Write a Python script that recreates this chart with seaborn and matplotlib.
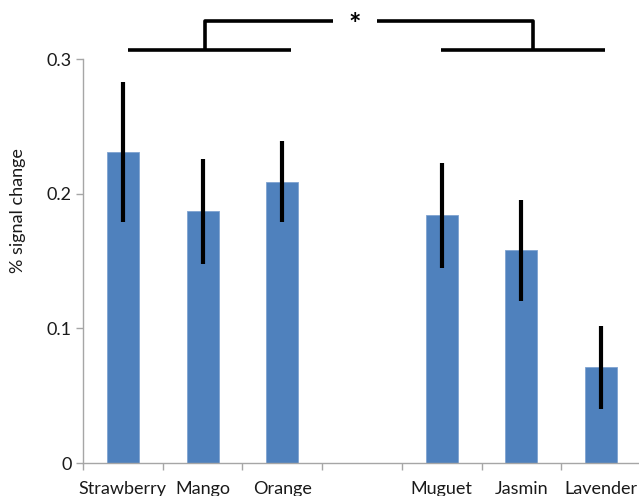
import numpy as np
import pandas as pd
import matplotlib
matplotlib.use("Agg")
import matplotlib.pyplot as plt
import seaborn as sns

# Odorant categories; the empty slot separates the fruity and floral groups
categories = ["Strawberry", "Mango", "Orange", "", "Muguet", "Jasmin", "Lavender"]
odors = ["Strawberry", "Mango", "Orange", "Muguet", "Jasmin", "Lavender"]
signal = [0.231, 0.187, 0.209, 0.184, 0.158, 0.071]
sem = [0.052, 0.039, 0.030, 0.039, 0.0375, 0.031]
y_ticks = [0, 0.1, 0.2, 0.3]
y_tick_labels = ["0", "0.1", "0.2", "0.3"]

sns.set_theme(style="white")
plt.rcParams["font.family"] = ["Lato", "DejaVu Sans"]

df = pd.DataFrame({"odor": odors, "signal": signal, "sem": sem})

fig = plt.figure(figsize=(6.39, 4.96), dpi=100)
ax = fig.add_axes([0.130, 0.0665, 0.873, 0.8145])

sns.barplot(data=df, x="odor", y="signal", order=categories,
            color="#4F81BD", saturation=1, width=0.4, errorbar=None,
            edgecolor="#7FA3D0", linewidth=0.6, ax=ax)

# Error bars placed at the bar centres
centers = {lab: p.get_x() + p.get_width() / 2
           for lab, p in zip(odors, [p for p in ax.patches if p.get_height() > 0])}
ax.errorbar([centers[o] for o in odors], signal, yerr=sem, fmt="none",
            ecolor="black", elinewidth=3.0, capsize=0, zorder=5)

ax.set_ylim(0, 0.3)
ax.set_xlim(-0.5, len(categories) - 0.5)
ax.set_yticks(y_ticks)
ax.set_yticklabels(y_tick_labels)
ax.set_xticks(range(len(categories)))
ax.set_xticklabels(categories)
ax.set_xticks(np.arange(-0.5, len(categories), 1.0), minor=True)

ax.tick_params(axis="x", which="major", length=0, pad=13, labelsize=13, colors="#1a1a1a")
ax.tick_params(axis="x", which="minor", bottom=True, length=5, width=1, color="#A6A6A6")
ax.tick_params(axis="y", left=True, length=5, width=1, color="#A6A6A6",
               pad=3, labelsize=13, labelcolor="#1a1a1a")

ax.set_xlabel("")
ax.set_ylabel("% signal change", fontsize=13, color="#1a1a1a")
ax.yaxis.set_label_coords(-0.102, 0.624)

sns.despine(ax=ax, top=True, right=True)
for side in ("left", "bottom"):
    ax.spines[side].set_color("#A6A6A6")
    ax.spines[side].set_linewidth(1)

# Group-comparison bracket (fruity vs floral)
low, high = 0.3068, 0.3285
kw = dict(color="black", lw=2.6, clip_on=False, solid_capstyle="butt")
left_a, left_b = 0.06, 2.11
right_a, right_b = 3.99, 6.05
left_mid, right_mid = 1.03, 5.15
ax.plot([left_a, left_b], [low, low], **kw)
ax.plot([right_a, right_b], [low, low], **kw)
ax.plot([left_mid, left_mid, 2.64], [low, high, high], **kw)
ax.plot([3.19, right_mid, right_mid], [high, high, low], **kw)
ax.text(2.91, high - 0.003, "*", ha="center", va="center", fontsize=21,
        fontweight="bold", color="black")

fig.savefig("out.png", dpi=100)
